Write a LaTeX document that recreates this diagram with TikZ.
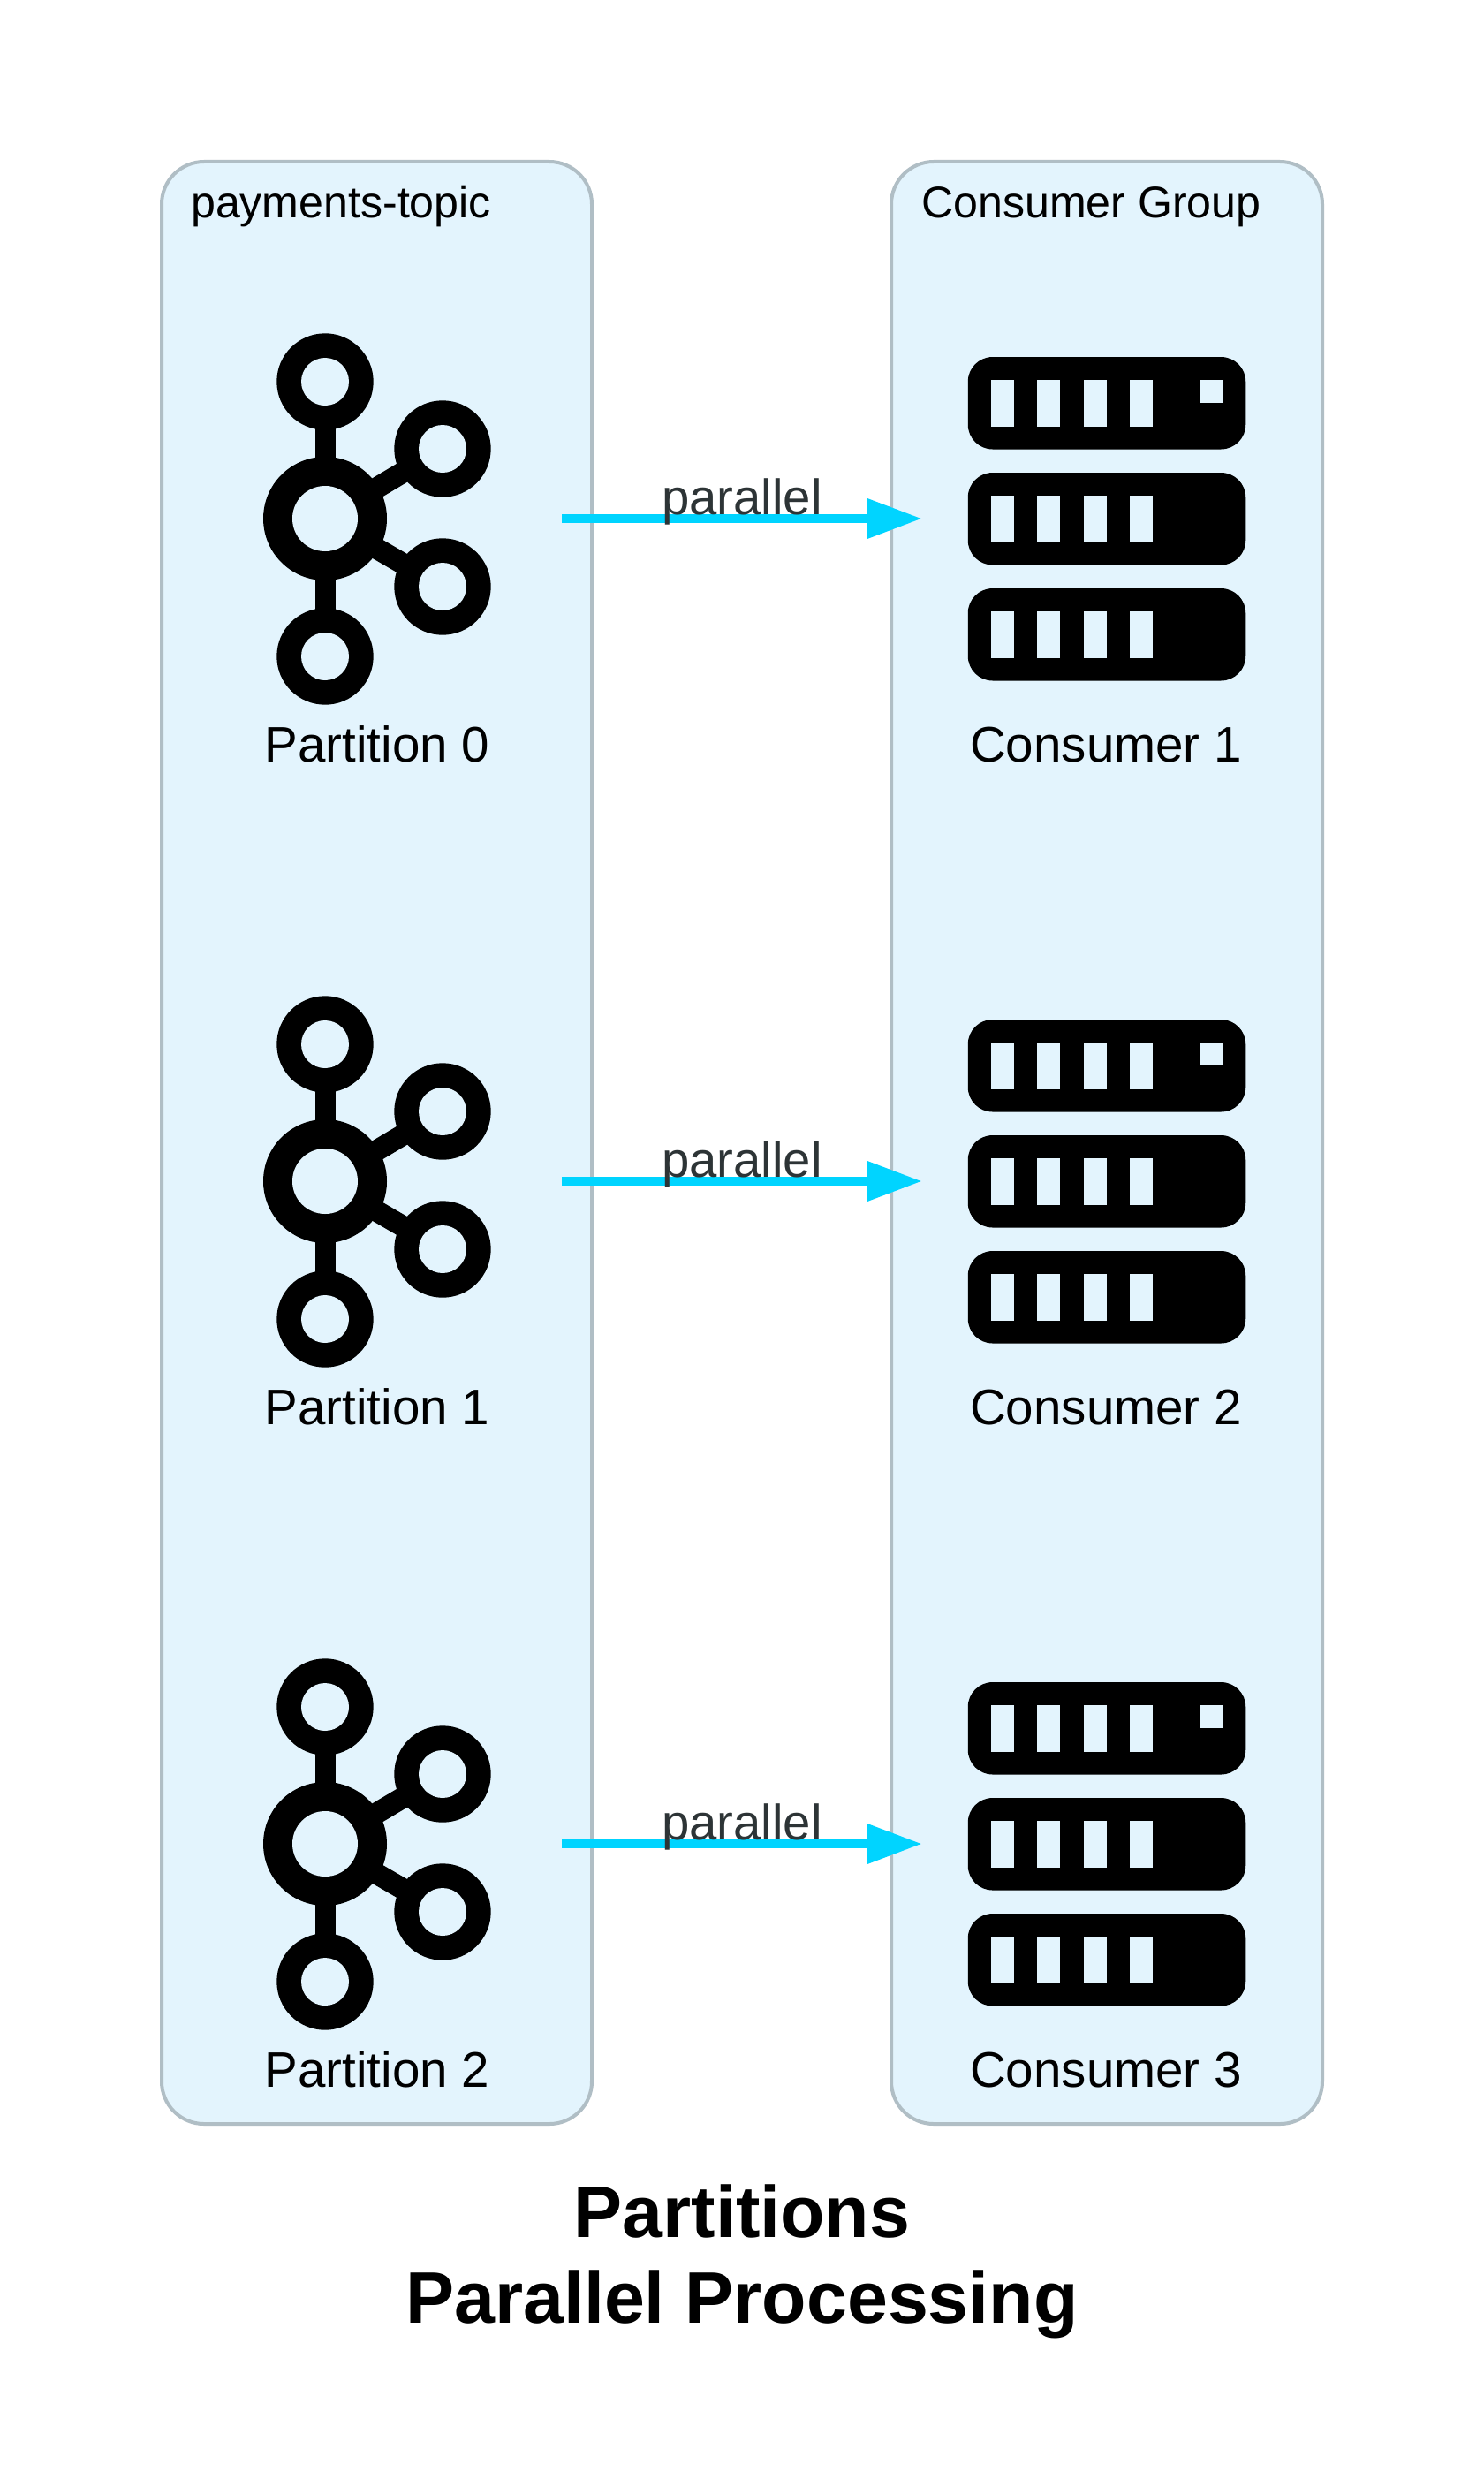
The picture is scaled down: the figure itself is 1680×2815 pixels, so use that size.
\documentclass[tikz,border=0pt]{standalone}
\usepackage{fontspec}
\setmainfont{Liberation Sans}
\usetikzlibrary{arrows.meta}
\definecolor{clusterfill}{HTML}{E3F4FD}
\definecolor{clusterline}{HTML}{B0BEC5}
\definecolor{flow}{HTML}{00D4FF}
\definecolor{edgetext}{HTML}{2D3436}
\tikzset{
  cluster/.style={draw=clusterline,fill=clusterfill,line width=4pt,rounded corners=48pt},
  grouplabel/.style={anchor=base west,inner sep=0pt,font=\fontsize{50.1}{60}\selectfont,text=black},
  nodelabel/.style={anchor=base,inner sep=0pt,font=\fontsize{56.5}{68}\selectfont,text=black},
  edgelabel/.style={anchor=base,inner sep=0pt,font=\fontsize{56.3}{68}\selectfont,text=edgetext},
  titlelabel/.style={align=center,anchor=base,inner sep=0pt,font=\fontsize{82.5}{97}\selectfont\bfseries,text=black},
  iconbox/.style={inner sep=0pt,minimum width=418pt,minimum height=418pt},
  flowarrow/.style={draw=flow,line width=10pt,-{Triangle[length=62.6pt,width=43.5pt,fill=flow]}},
  kafka/.pic={
    \fill[black] (-11.5,-155) rectangle (11.5,155);
    \draw[black,line width=24pt] (0,0) -- (133,-79) (0,0) -- (133,77);
    \foreach \cx/\cy/\ro/\ri in {0/0/70/37,0/-155/54.7/27,0/156/54.7/27,133/-79/54.7/27,133/77/54.7/27}{
      \fill[black] (\cx,\cy) circle[radius=\ro pt];
      \fill[clusterfill] (\cx,\cy) circle[radius=\ri pt];
    }
  },
  server/.pic={
    \foreach \oy in {-183,-52,79}{
      \fill[black,rounded corners=28pt] (-157.25,\oy) rectangle (157.25,\oy+104.5);
      \foreach \sx in {-131,-79,-26,26}{
        \fill[clusterfill] (\sx,\oy+26) rectangle (\sx+26.4,\oy+78.5);
      }
    }
    \fill[clusterfill] (105,-157) rectangle (131.6,-131);
  }
}
\begin{document}
\begin{tikzpicture}[x=1pt,y=-1pt]
\useasboundingbox (0,0) rectangle (1680,2815);
\fill[white] (0,0) rectangle (1680,2815);
\draw[cluster] (183,183) rectangle (670,2404);
\draw[cluster] (1009,183) rectangle (1497,2404);
\node[grouplabel] (topiclabel) at (216,246) {payments-topic};
\node[grouplabel] (grouplabel) at (1043,246) {Consumer Group};
\foreach \r/\cname in {0/1,1/2,2/3}{
  \pgfmathsetmacro{\yy}{587+750*\r}
  \pgfmathsetmacro{\yl}{862+750*\r}
  \pgfmathsetmacro{\ye}{582+750*\r}
  \node[iconbox] (p\r) at (427,\yy) {};
  \node[iconbox] (c\r) at (1253,\yy) {};
  \pic at (368,\yy) {kafka};
  \pic at (1253,\yy) {server};
  \node[nodelabel] (pl\r) at (427,\yl) {Partition \r};
  \node[nodelabel] (cl\r) at (1252,\yl) {Consumer \cname};
  \draw[flowarrow] (p\r.east) -- (c\r.west);
  \node[edgelabel] (el\r) at (840,\ye) {parallel};
}
\node[titlelabel] (title) at (840,2629) {Partitions\\Parallel Processing};
\end{tikzpicture}
\end{document}
